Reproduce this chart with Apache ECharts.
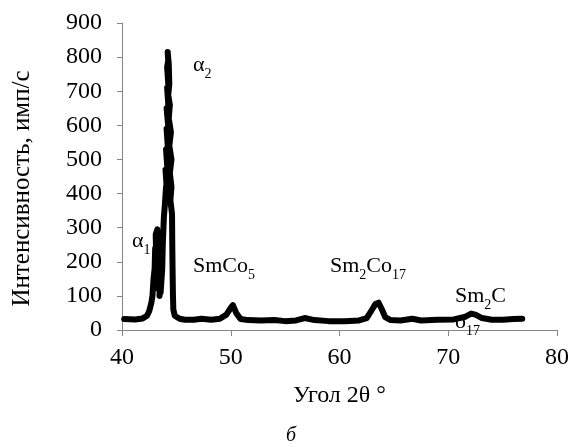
<!DOCTYPE html>
<html>
<head>
<meta charset="utf-8">
<script src="https://cdn.jsdelivr.net/npm/echarts@6/dist/echarts.min.js"></script>
<style>
  html, body { margin: 0; padding: 0; background: #fff; }
  #container { width: 572px; height: 447px; }
</style>
</head>
<body>
<div id="container"></div>
<script>
var dom = document.getElementById('container')
var myChart = echarts.init(dom)

// угол 2θ и интенсивность (порядок точек как в исходных данных)
var angle = [40.2, 41.2, 41.9, 42.3, 42.5, 42.7, 42.8, 42.9, 43.0, 43.05, 43.15, 43.1, 43.25, 43.2, 43.35, 43.25, 43.4, 43.3, 43.45, 43.35,
  43.5, 43.45, 43.6, 43.55, 43.7, 43.75, 43.85, 43.95, 44.05, 44.15, 44.0, 44.2, 44.05, 44.25, 44.1, 44.3, 44.1, 44.3, 44.15, 44.3,
  44.15, 44.25, 44.2, 44.3, 44.35, 44.25, 44.4, 44.3, 44.5, 44.35, 44.55, 44.4, 44.55, 44.45, 44.6, 44.62, 44.65, 44.68, 44.72, 44.85,
  45.3, 45.8, 46.6, 47.3, 48.2, 49.0, 49.6, 50.0, 50.2, 50.5, 50.9, 51.6, 52.8, 54.0, 55.0, 56.0, 56.8, 57.7, 59.0, 60.5,
  61.8, 62.5, 62.9, 63.3, 63.6, 63.9, 64.2, 64.7, 65.6, 66.7, 67.5, 69.0, 70.5, 71.5, 72.1, 72.5, 73.1, 74.0, 75.0, 76.0,
  76.8]
var intensity = [32, 31, 34, 42, 55, 80, 100, 150, 180, 240, 200, 280, 295, 230, 270, 180, 240, 150, 210, 120,
  180, 100, 150, 110, 180, 250, 330, 370, 420, 400, 470, 460, 530, 520, 590, 580, 650, 640, 710, 700,
  770, 790, 815, 780, 720, 690, 660, 620, 580, 540, 500, 460, 420, 380, 340, 260, 180, 110, 60, 42,
  33, 30, 30, 33, 30, 33, 45, 65, 73, 50, 32, 29, 28, 29, 26, 28, 35, 29, 26, 26,
  28, 35, 55, 76, 80, 60, 38, 29, 28, 33, 28, 30, 31, 38, 48, 45, 35, 30, 30, 32,
  33]

var xTicks = [40, 50, 60, 70, 80]
var yTicks = [0, 100, 200, 300, 400, 500, 600, 700, 800, 900]

var points = angle.map(function(a, i) {
  return [a, intensity[i]]
})

var serif = '"Liberation Serif", "Times New Roman", serif'
var sub = { fontSize: 14, fontFamily: serif, color: '#000', padding: [18, 0, 0, 0] }
var main = { fontSize: 22, fontFamily: serif, color: '#000' }

function peakLabel(text, left, top) {
  return {
    type: 'text',
    left: left,
    top: top,
    z: 1,
    style: {
      text: text,
      rich: { m: main, s: sub }
    }
  }
}

var option = {
  backgroundColor: '#fff',
  animation: false,
  grid: {
    left: 122,
    right: 14,
    top: 23,
    bottom: 117
  },
  xAxis: {
    type: 'value',
    min: xTicks[0],
    max: xTicks[xTicks.length - 1],
    interval: 10,
    name: 'Угол 2θ °',
    nameLocation: 'middle',
    nameGap: 54,
    nameTextStyle: { fontFamily: serif, fontSize: 24, color: '#000' },
    axisLine: { lineStyle: { color: '#868686', width: 1 } },
    axisTick: { show: true, length: 6, lineStyle: { color: '#868686' } },
    axisLabel: { fontFamily: serif, fontSize: 24, color: '#000', margin: 16 },
    splitLine: { show: false }
  },
  yAxis: {
    type: 'value',
    min: yTicks[0],
    max: yTicks[yTicks.length - 1],
    interval: 100,
    name: 'Интенсивность, имп/с',
    nameLocation: 'middle',
    nameGap: 87,
    nameTextStyle: { fontFamily: serif, fontSize: 25, color: '#000', padding: [0, 24, 0, 0] },
    axisLine: { show: true, lineStyle: { color: '#868686', width: 1 } },
    axisTick: { show: true, length: 5, lineStyle: { color: '#868686' } },
    axisLabel: { fontFamily: serif, fontSize: 24, color: '#000', margin: 20 },
    splitLine: { show: false }
  },
  graphic: [
    peakLabel('{m|α}{s|2}', 193, 54),
    peakLabel('{m|α}{s|1}', 132, 230),
    peakLabel('{m|SmCo}{s|5}', 193, 255),
    peakLabel('{m|Sm}{s|2}{m|Co}{s|17}', 330, 255),
    peakLabel('{m|Sm}{s|2}{m|C}', 455, 285),
    peakLabel('{m|o}{s|17}', 455, 311),
    {
      type: 'text',
      left: 286,
      top: 426,
      style: {
        text: 'б',
        fontFamily: serif,
        fontStyle: 'italic',
        fontSize: 20,
        fill: '#000'
      }
    }
  ],
  series: [{
    type: 'line',
    z: 2,
    data: points,
    showSymbol: false,
    smooth: false,
    lineStyle: { color: '#000', width: 6, cap: 'round', join: 'round' }
  }]
}

myChart.setOption(option)
</script>
</body>
</html>
